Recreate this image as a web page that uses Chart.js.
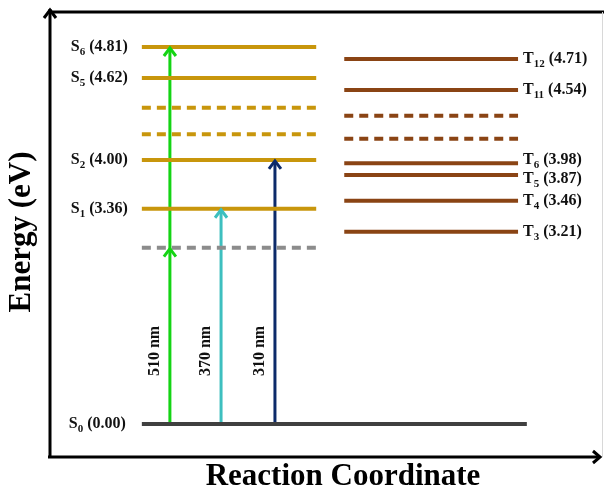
<!DOCTYPE html>
<html>
<head>
<meta charset="utf-8">
<script src="https://cdn.jsdelivr.net/npm/chart.js@4.4.1/dist/chart.umd.min.js"></script>
<style>
  html, body { margin: 0; padding: 0; background: #fff; }
  #wrap { width: 604px; height: 492px; }
</style>
</head>
<body>
<div id="wrap"><canvas id="levels"></canvas></div>
<script>
// Singlet levels (left column): name subscript, energy (eV), drawn height in the diagram
const singletSub = ['6', '5', '2', '1'];
const singletEnergy = ['4.81', '4.62', '4.00', '3.36'];
const singletHeight = [5.71, 5.24, 4.00, 3.26];
const singletDashedHeight = [4.79, 4.39];

// Triplet levels (right column)
const tripletSub = ['12', '11', '6', '5', '4', '3'];
const tripletEnergy = ['4.71', '4.54', '3.98', '3.87', '3.46', '3.21'];
const tripletHeight = [5.53, 5.06, 3.95, 3.77, 3.38, 2.91];
const tripletDashedHeight = [4.67, 4.32];
// T6 / T5 sit close together, so their labels are nudged apart (px)
const tripletLabelShift = [0, 0, -3, 4, 0, 0];

// Ground state and virtual (two-photon) state
const groundEnergy = '0.00';
const groundHeight = 0;
const virtualHeight = 2.67;

// Excitation arrows
const wavelengths = ['510 nm', '370 nm', '310 nm'];
const arrowX = [2.18, 3.11, 4.09];
const arrowTop = [5.71, 3.26, 4.00];
const arrowColors = ['#14d414', '#3dbfbf', '#0c2a6a'];

// Column spans on the reaction coordinate
const singletSpan = [1.67, 4.84];
const tripletSpan = [5.35, 8.51];
const groundSpan = [1.67, 8.67];

const GOLD = '#c8960c';
const BROWN = '#8a4414';
const SERIF = '"Liberation Serif", "Times New Roman", serif';

function levelSet(heights, span, color, dashed) {
  return heights.map(function(h) {
    return {
      data: [{ x: span[0], y: h }, { x: span[1], y: h }],
      borderColor: color,
      borderWidth: 4,
      borderDash: dashed ? [9, 6] : [],
      borderCapStyle: 'butt',
      showLine: true,
      pointRadius: 0
    };
  });
}

const datasets = []
  .concat(levelSet(singletHeight, singletSpan, GOLD, false))
  .concat(levelSet(singletDashedHeight, singletSpan, GOLD, true))
  .concat(levelSet(tripletHeight, tripletSpan, BROWN, false))
  .concat(levelSet(tripletDashedHeight, tripletSpan, BROWN, true))
  .concat(levelSet([virtualHeight], singletSpan, '#8c8c8c', true))
  .concat(levelSet([groundHeight], groundSpan, '#404040', false));

// arrow shafts
const arrowSets = wavelengths.map(function(w, i) {
  return {
    data: [{ x: arrowX[i], y: groundHeight }, { x: arrowX[i], y: arrowTop[i] }],
    borderColor: arrowColors[i],
    borderWidth: 3,
    showLine: true,
    pointRadius: 0
  };
});

// draw S_n (x.xx) style label with subscript
function drawLevelLabel(ctx, letter, sub, energy, x, y, align) {
  const big = 'bold 16px ' + SERIF;
  const small = 'bold 11px ' + SERIF;
  ctx.font = big;
  const wL = ctx.measureText(letter).width;
  const wE = ctx.measureText(' (' + energy + ')').width;
  ctx.font = small;
  const wS = ctx.measureText(sub).width;
  const total = wL + wS + wE;
  let x0 = align === 'right' ? x - total : x;
  ctx.textBaseline = 'middle';
  ctx.textAlign = 'left';
  ctx.font = big;
  ctx.fillText(letter, x0, y);
  ctx.font = small;
  ctx.fillText(sub, x0 + wL, y + 5);
  ctx.font = big;
  ctx.fillText(' (' + energy + ')', x0 + wL + wS, y);
}

function chevron(ctx, x, y, color) {
  ctx.save();
  ctx.strokeStyle = color;
  ctx.lineWidth = 3;
  ctx.lineCap = 'butt';
  ctx.lineJoin = 'miter';
  ctx.beginPath();
  ctx.moveTo(x - 6, y + 9);
  ctx.lineTo(x, y + 1);
  ctx.lineTo(x + 6, y + 9);
  ctx.stroke();
  ctx.restore();
}

const diagramPlugin = {
  id: 'diagram',
  afterDatasetsDraw: function(chart) {
    const ctx = chart.ctx;
    const xs = chart.scales.x;
    const ys = chart.scales.y;
    const a = chart.chartArea;
    ctx.save();

    // frame: energy axis with arrow, reaction coordinate axis with arrow
    ctx.strokeStyle = '#000';
    ctx.lineWidth = 3;
    ctx.beginPath();
    ctx.moveTo(a.left, a.bottom + 1);
    ctx.lineTo(a.left, a.top - 3);
    ctx.moveTo(a.left, a.top);
    ctx.lineTo(chart.width, a.top);
    ctx.moveTo(a.left - 2, a.bottom);
    ctx.lineTo(a.right - 1, a.bottom);
    ctx.stroke();
    ctx.beginPath();
    ctx.moveTo(a.left - 6, a.top + 6);
    ctx.lineTo(a.left, a.top - 2);
    ctx.lineTo(a.left + 6, a.top + 6);
    ctx.moveTo(a.right - 7, a.bottom - 6);
    ctx.lineTo(a.right, a.bottom);
    ctx.lineTo(a.right - 7, a.bottom + 6);
    ctx.stroke();
    ctx.strokeStyle = '#d8d8d8';
    ctx.lineWidth = 1;
    ctx.beginPath();
    ctx.moveTo(chart.width - 1.5, a.top);
    ctx.lineTo(chart.width - 1.5, a.bottom);
    ctx.stroke();

    // arrowheads
    wavelengths.forEach(function(w, i) {
      const px = xs.getPixelForValue(arrowX[i]);
      chevron(ctx, px, ys.getPixelForValue(arrowTop[i]), arrowColors[i]);
    });
    // two-photon: first photon lands on the virtual state
    chevron(ctx, xs.getPixelForValue(arrowX[0]), ys.getPixelForValue(virtualHeight), arrowColors[0]);

    // level labels
    ctx.fillStyle = '#111';
    singletHeight.forEach(function(h, i) {
      drawLevelLabel(ctx, 'S', singletSub[i], singletEnergy[i],
        xs.getPixelForValue(singletSpan[0]) - 14, ys.getPixelForValue(h), 'right');
    });
    drawLevelLabel(ctx, 'S', '0', groundEnergy,
      xs.getPixelForValue(groundSpan[0]) - 16, ys.getPixelForValue(groundHeight), 'right');
    tripletHeight.forEach(function(h, i) {
      drawLevelLabel(ctx, 'T', tripletSub[i], tripletEnergy[i],
        xs.getPixelForValue(tripletSpan[1]) + 5, ys.getPixelForValue(h) + tripletLabelShift[i], 'left');
    });

    // wavelength labels, rotated along the arrows
    ctx.font = 'bold 16px ' + SERIF;
    ctx.textAlign = 'center';
    ctx.textBaseline = 'middle';
    wavelengths.forEach(function(w, i) {
      ctx.save();
      ctx.translate(xs.getPixelForValue(arrowX[i]) - 15, 351);
      ctx.rotate(-Math.PI / 2);
      ctx.fillText(w, 0, 0);
      ctx.restore();
    });

    // axis titles
    ctx.fillStyle = '#000';
    ctx.font = 'bold 31px ' + SERIF;
    ctx.save();
    ctx.translate(22, 232);
    ctx.rotate(-Math.PI / 2);
    ctx.fillText('Energy (eV)', 0, 0);
    ctx.restore();
    ctx.font = 'bold 31px ' + SERIF;
    ctx.fillText('Reaction Coordinate', 343, 477);

    ctx.restore();
  }
};

const ctx = document.getElementById('levels').getContext('2d');
const levelChart = new Chart(ctx, {
  type: 'scatter',
  data: { datasets: datasets.concat(arrowSets) },
  options: {
    responsive: true,
    maintainAspectRatio: false,
    animation: false,
    layout: { padding: { left: 50, top: 12, right: 4, bottom: 35 } },
    plugins: {
      legend: { display: false },
      tooltip: { enabled: false }
    },
    scales: {
      x: { type: 'linear', min: 0, max: 10, display: false },
      y: { type: 'linear', min: -0.5, max: 6.24, display: false }
    }
  },
  plugins: [diagramPlugin]
});
</script>
</body>
</html>
